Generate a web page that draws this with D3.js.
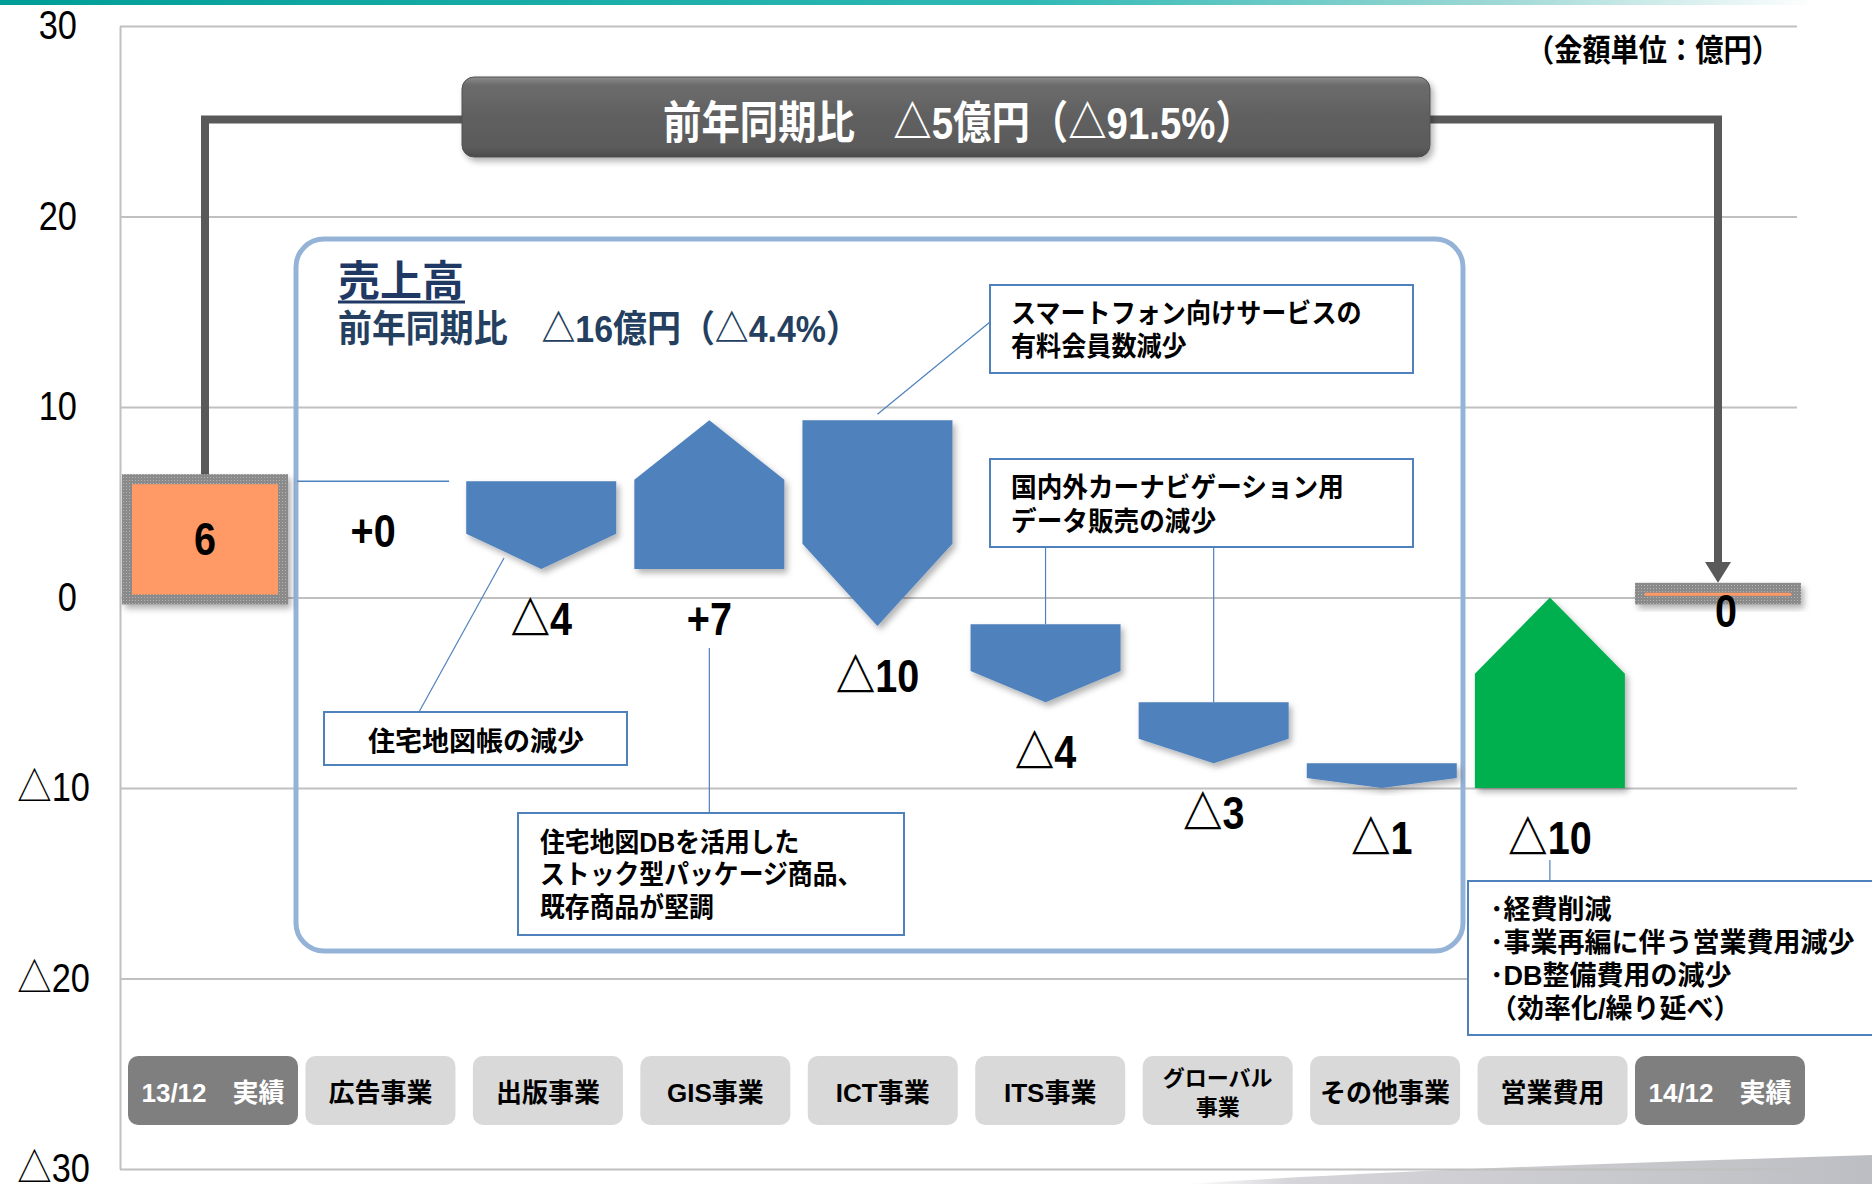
<!DOCTYPE html>
<html lang="ja">
<head>
<meta charset="UTF-8">
<title>営業利益 増減要因</title>
<script src="https://cdn.jsdelivr.net/npm/d3@7"></script>
<style>
  body { margin: 0; background: #fff; }
  svg { display: block; }
  text { font-family: "Liberation Sans", "Noto Sans CJK JP", sans-serif; font-weight: bold; }
  .axis text { font-weight: normal; font-size: 40px; fill: #000; }
  .axis line, .axis path { stroke: #c0c0c0; stroke-width: 2px; }
  .callout rect { fill: #fff; stroke: #4f81bd; stroke-width: 2px; }
  .callout text { font-size: 27px; fill: #000; }
  .leader { stroke: #4f81bd; stroke-width: 1.2px; fill: none; }
  .val { font-size: 46px; font-weight: 900; fill: #000; text-anchor: middle; }
</style>
</head>
<body>
<svg width="1872" height="1184"></svg>
<script>
// --- data ---
var categories = ["13/12 実績", "広告事業", "出版事業", "GIS事業", "ICT事業", "ITS事業", "グローバル事業", "その他事業", "営業費用", "14/12 実績"];
var buttonLines = [["13/12　実績"], ["広告事業"], ["出版事業"], ["GIS事業"], ["ICT事業"], ["ITS事業"], ["グローバル", "事業"], ["その他事業"], ["営業費用"], ["14/12　実績"]];
var barStart  = [0, 6.1, 6.1, 1.5, 9.3, -1.4, -5.5, -8.7, -10, 0];
var barEnd    = [6, 6.1, 1.5, 9.3, -1.5, -5.5, -8.7, -10, 0, 0.3];
var barLabels = ["6", "+0", "△4", "+7", "△10", "△4", "△3", "△1", "△10", "0"];
var barColors = ["#ff9966", "#4f81bd", "#4f81bd", "#4f81bd", "#4f81bd", "#4f81bd", "#4f81bd", "#4f81bd", "#00b050", "#ff9966"];
var yTicks = [30, 20, 10, 0, -10, -20, -30];

var svg = d3.select("svg"),
    left = 120, right = 1797;

var y = d3.scaleLinear().domain([-30, 30]).range([1169, 26]);
var x = d3.scalePoint().domain(categories).range([205, 1718]);
var xb = d3.scalePoint().domain(categories).range([213, 1720]);

var fmt = function(v) { return v < 0 ? "△" + (-v) : String(v); };

// squeeze a text horizontally so it spans `target` px
function fitText(parent, x0, y0, target, str) {
  var t = parent.append("text").text(str);
  return function(attrs) {
    for (var k in attrs) t.attr(k, attrs[k]);
    var w = t.node().getComputedTextLength();
    t.attr("transform", "translate(" + x0 + "," + y0 + ") scale(" + (target / w) + ",1)");
    return t;
  };
}

// defs: shadows, gradients, pattern
var defs = svg.append("defs");
var sh = defs.append("filter").attr("id", "shadow").attr("x", "-20%").attr("y", "-20%").attr("width", "150%").attr("height", "150%");
sh.append("feDropShadow").attr("dx", 3).attr("dy", 4).attr("stdDeviation", 3)
  .attr("flood-color", "#000").attr("flood-opacity", 0.3);

var topGrad = defs.append("linearGradient").attr("id", "topbar");
[["0%", "#009e97"], ["55%", "#2fb9b4"], ["80%", "#9ed8d5"], ["97%", "#ffffff"]].forEach(function(s) {
  topGrad.append("stop").attr("offset", s[0]).attr("stop-color", s[1]);
});
var bg = defs.append("linearGradient").attr("id", "banner").attr("x1", 0).attr("x2", 0).attr("y1", 0).attr("y2", 1);
[["0%", "#8c8c8c"], ["10%", "#6c6c6c"], ["50%", "#606060"], ["90%", "#5a5a5a"], ["100%", "#4a4a4a"]].forEach(function(s) {
  bg.append("stop").attr("offset", s[0]).attr("stop-color", s[1]);
});
var sw = defs.append("linearGradient").attr("id", "swoosh");
[["0%", "#ffffff"], ["15%", "#d6d6da"], ["100%", "#bdbec3"]].forEach(function(s) {
  sw.append("stop").attr("offset", s[0]).attr("stop-color", s[1]);
});
var pat = defs.append("pattern").attr("id", "dots").attr("width", 3).attr("height", 3).attr("patternUnits", "userSpaceOnUse");
pat.append("rect").attr("width", 3).attr("height", 3).attr("fill", "#8a8a8a");
pat.append("rect").attr("width", 1).attr("height", 1).attr("fill", "#b5b5b5");

// top decoration
svg.append("rect").attr("x", 0).attr("y", 0).attr("width", 1872).attr("height", 5).attr("fill", "url(#topbar)");
svg.append("path")
   .attr("d", "M1185,1184 C1400,1170 1650,1162 1872,1155 L1872,1184 Z")
   .attr("fill", "url(#swoosh)");

// y axis + gridlines
var axis = svg.append("g").attr("class", "axis")
   .attr("transform", "translate(" + left + ",0)")
   .call(d3.axisLeft(y).tickValues(yTicks).tickSize(-(right - left)).tickSizeOuter(0).tickPadding(43).tickFormat(fmt));
axis.selectAll("text")
    .attr("transform", "scale(0.86,1)")
    .attr("x", function(d) { return (d < 0 ? -30 : -43) / 0.86; });

// light blue panel (売上高)
svg.append("rect")
   .attr("x", 296).attr("y", 239).attr("width", 1167).attr("height", 712).attr("rx", 28)
   .attr("fill", "none").attr("stroke", "#95b3d7").attr("stroke-width", 5);
svg.append("text").attr("x", 338).attr("y", 296).attr("font-size", 42).attr("fill", "#1f3864").text("売上高");
svg.append("line").attr("x1", 338).attr("x2", 465).attr("y1", 302).attr("y2", 302)
   .attr("stroke", "#1f3864").attr("stroke-width", 3);
fitText(svg, 338, 342, 522, "前年同期比　△16億円（△4.4%）")({"font-size": 37, "fill": "#243f60"});

// connector from start total to end total through the banner
var conn = svg.append("g").attr("fill", "none").attr("stroke", "#595959").attr("stroke-width", 8);
conn.append("path").attr("d", "M" + x(categories[0]) + "," + (y(barEnd[0]) - 7) + "V119.5H470");
conn.append("path").attr("d", "M1420,119.5H" + x(categories[9]) + "V563");
svg.append("path")
   .attr("d", "M" + (x(categories[9]) - 13) + ",562L" + (x(categories[9]) + 13) + ",562L" + x(categories[9]) + "," + (y(barEnd[9]) - 9) + "Z")
   .attr("fill", "#595959");

svg.append("rect").attr("x", 462).attr("y", 77).attr("width", 968).attr("height", 80).attr("rx", 12)
   .attr("fill", "url(#banner)").attr("stroke", "#505050").attr("stroke-width", 1).attr("filter", "url(#shadow)");
fitText(svg, 663, 139, 591, "前年同期比　△5億円（△91.5%）")({"font-size": 45, "fill": "#fff"});
fitText(svg, 1526, 61, 254, "（金額単位：億円）")({"font-size": 31, "fill": "#000"});

// bars
var idx = d3.range(categories.length);
var marks = svg.append("g");

idx.forEach(function(i) {
  var xc = x(categories[i]), s = barStart[i], e = barEnd[i];
  if (i === 0 || i === categories.length - 1) {
    var t = y(Math.max(s, e)), b = y(Math.min(s, e));
    marks.append("rect").attr("x", xc - 83).attr("y", t - 9).attr("width", 166).attr("height", b - t + 16)
         .attr("fill", "url(#dots)").attr("filter", "url(#shadow)");
    marks.append("rect").attr("x", xc - 73).attr("y", t + 1).attr("width", 146).attr("height", Math.max(b - t - 4, 3))
         .attr("fill", barColors[i]);
  } else if (s === e) {
    marks.append("line").attr("x1", xc - 76).attr("x2", xc + 76).attr("y1", y(s)).attr("y2", y(s))
         .attr("stroke", barColors[i]).attr("stroke-width", 1.5);
  } else {
    var y0 = y(s), y1 = y(e), ys = y0 + 0.6 * (y1 - y0), hw = 75;
    marks.append("path")
         .attr("d", "M" + (xc - hw) + "," + y0 + "H" + (xc + hw) + "V" + ys + "L" + xc + "," + y1 + "L" + (xc - hw) + "," + ys + "Z")
         .attr("fill", barColors[i]).attr("filter", "url(#shadow)");
  }
});

// value labels
svg.append("g").selectAll("text")
   .data(idx).enter().append("text")
   .attr("class", "val")
   .attr("transform", function(i) {
     var s = barStart[i], e = barEnd[i], lx = x(categories[i]), ly;
     if (i === 0 || i === categories.length - 1) {
       var h = y(Math.min(s, e)) - y(Math.max(s, e));
       if (h > 60) { ly = (y(s) + y(e)) / 2 + 15; } else { ly = y(0) + 29; lx += 8; }
     } else {
       ly = y(Math.min(s, e)) + 66;
     }
     return "translate(" + lx + "," + ly + ") scale(0.86,1)";
   })
   .text(function(i) { return barLabels[i]; });

// callouts
function callout(bx, by, bw, bh, lines, tx, ty, lh, sx, anchor) {
  var g = svg.append("g").attr("class", "callout");
  g.append("rect").attr("x", bx).attr("y", by).attr("width", bw).attr("height", bh);
  var t = g.append("text").attr("text-anchor", anchor || "start")
           .attr("transform", "translate(" + tx + "," + ty + ") scale(" + sx + ",1)");
  lines.forEach(function(l, k) {
    t.append("tspan").attr("x", 0).attr("y", k * lh).text(l);
  });
}
function leader(x1, y1, x2, y2) {
  svg.append("line").attr("class", "leader").attr("x1", x1).attr("y1", y1).attr("x2", x2).attr("y2", y2);
}

leader(990, 322, x(categories[4]), y(barStart[4]) - 6);
callout(990, 285, 423, 88, ["スマートフォン向けサービスの", "有料会員数減少"], 1011, 323, 33, 0.93);

leader(x(categories[5]), 547, x(categories[5]), y(barStart[5]));
leader(x(categories[6]), 547, x(categories[6]), y(barStart[6]));
callout(990, 459, 423, 88, ["国内外カーナビゲーション用", "データ販売の減少"], 1011, 497, 34, 0.95);

leader(419, 712, 504, 558);
callout(324, 712, 303, 53, ["住宅地図帳の減少"], 476, 751, 0, 1, "middle");

leader(x(categories[3]), 648, x(categories[3]), 813);
callout(518, 813, 386, 122, ["住宅地図DBを活用した", "ストック型パッケージ商品、", "既存商品が堅調"], 540, 852, 32.5, 0.92);

leader(x(categories[8]), 860, x(categories[8]), 881);
callout(1468, 881, 420, 154, ["･経費削減", "･事業再編に伴う営業費用減少", "･DB整備費用の減少", "（効率化/繰り延べ）"], 1490, 919, 33, 1);

// category buttons
var btn = svg.append("g").selectAll("g").data(idx).enter().append("g")
   .attr("transform", function(i) { return "translate(" + xb(categories[i]) + ",1056)"; });
btn.append("rect")
   .attr("x", function(i) { return (i === 0 || i === 9) ? -85 : -75; })
   .attr("width", function(i) { return (i === 0 || i === 9) ? 170 : 150; })
   .attr("height", 69).attr("rx", 10)
   .attr("fill", function(i) { return (i === 0 || i === 9) ? "#7f7f7f" : "#d9d9d9"; });
btn.each(function(i) {
  var lines = buttonLines[i], g = d3.select(this);
  var two = lines.length > 1;
  var t = g.append("text").attr("text-anchor", "middle")
     .attr("font-size", two ? 22 : 26)
     .attr("fill", (i === 0 || i === 9) ? "#fff" : "#000");
  lines.forEach(function(l, k) {
    t.append("tspan").attr("x", 0).attr("y", two ? 30 + k * 29 : 46).text(l);
  });
});
</script>
</body>
</html>
